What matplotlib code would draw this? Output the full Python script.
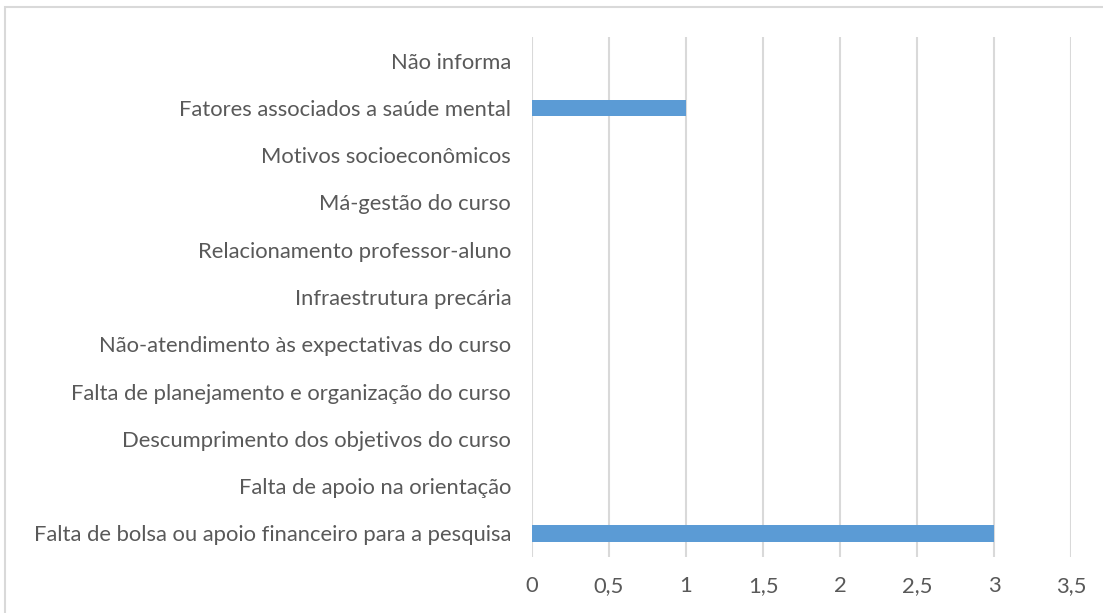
import matplotlib.pyplot as plt
from matplotlib.patches import Rectangle

# categories listed bottom to top
categories = [
    'Falta de bolsa ou apoio financeiro para a pesquisa',
    'Falta de apoio na orientação',
    'Descumprimento dos objetivos do curso',
    'Falta de planejamento e organização do curso',
    'Não-atendimento às expectativas do curso',
    'Infraestrutura precária',
    'Relacionamento professor-aluno',
    'Má-gestão do curso',
    'Motivos socioeconômicos',
    'Fatores associados a saúde mental',
    'Não informa',
]
values = [3, 0, 0, 0, 0, 0, 0, 0, 0, 1, 0]
xticks = [0, 0.5, 1, 1.5, 2, 2.5, 3, 3.5]
xtick_labels = ['0', '0,5', '1', '1,5', '2', '2,5', '3', '3,5']

plt.rcParams['font.family'] = ['Lato', 'DejaVu Sans']

fig = plt.figure(figsize=(11.03, 6.13), dpi=100)
ax = fig.add_axes([532 / 1103, 1 - 557 / 613, (1071 - 532) / 1103, (557 - 37) / 613])

# outer chart frame (only top and left edges fall inside the image)
fig.patches.append(Rectangle((5 / 1103, -0.1), 1.2, 1 - 7 / 613 + 0.1,
                             transform=fig.transFigure, fill=False,
                             edgecolor='#d9d9d9', linewidth=1.5))

pos = range(len(categories))
ax.barh(pos, values, height=0.35, color='#5b9bd5', linewidth=0, zorder=3)

ax.set_xlim(0, 3.5)
ax.set_ylim(-0.5, len(categories) - 0.5)
ax.set_xticks(xticks)
ax.set_xticklabels(xtick_labels)
ax.set_yticks(list(pos))
ax.set_yticklabels(categories)

ax.grid(axis='x', color='#d9d9d9', linewidth=1.5, zorder=0)
ax.grid(axis='y', visible=False)
for s in ax.spines.values():
    s.set_visible(False)
ax.tick_params(axis='both', length=0, labelsize=15.8, colors='#595959')
ax.tick_params(axis='y', pad=15)
ax.tick_params(axis='x', pad=14)

fig.savefig('out.png', dpi=100)
